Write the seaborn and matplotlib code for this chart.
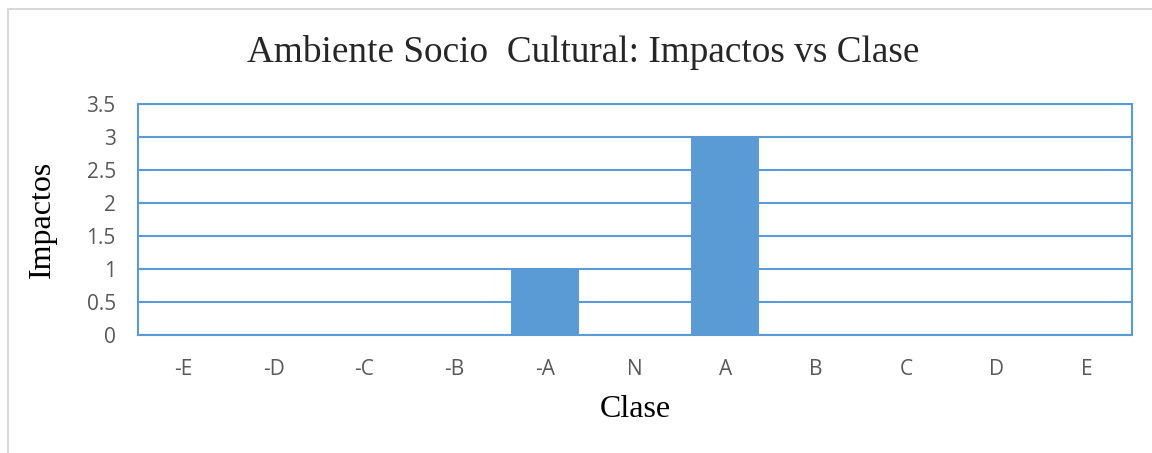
import numpy as np
import pandas as pd
import matplotlib
matplotlib.use('Agg')
import matplotlib.pyplot as plt
import seaborn as sns
from matplotlib.patches import Rectangle

# Data
clases = ['-E', '-D', '-C', '-B', '-A', 'N', 'A', 'B', 'C', 'D', 'E']
impactos = [0, 0, 0, 0, 1, 0, 3, 0, 0, 0, 0]
y_ticks = [0, 0.5, 1, 1.5, 2, 2.5, 3, 3.5]
y_tick_labels = ['0', '0.5', '1', '1.5', '2', '2.5', '3', '3.5']

df = pd.DataFrame({'Clase': clases, 'Impactos': impactos})

sns.set_theme(style='white')
blue = '#5B9BD5'

fig = plt.figure(figsize=(11.52, 4.53), dpi=100)
ax = fig.add_axes([138 / 1152, 1 - 335 / 453, (1132 - 138) / 1152, (335 - 104) / 453])

sns.barplot(data=df, x='Clase', y='Impactos', order=clases, color=blue,
            saturation=1, width=0.75, linewidth=0, ax=ax, zorder=3)

ax.set_ylim(0, 3.5)
ax.set_yticks(y_ticks)
ax.set_yticklabels(y_tick_labels)
ax.set_xlim(-0.5, len(clases) - 0.5)
ax.yaxis.grid(True, color=blue, linewidth=1.5, zorder=0)
ax.set_axisbelow(True)
for s in ax.spines.values():
    s.set_visible(True)
    s.set_color(blue)
    s.set_linewidth(1.5)

ax.tick_params(axis='both', length=0, labelsize=15, labelcolor='#595959')
ax.tick_params(axis='y', pad=16)
ax.tick_params(axis='x', pad=17)
for lab in ax.get_xticklabels() + ax.get_yticklabels():
    lab.set_family('Open Sans')

ax.set_xlabel('Clase', family='Liberation Serif', fontsize=23, color='black', labelpad=11)
ax.set_ylabel('Impactos', family='Liberation Serif', fontsize=23, color='black', labelpad=21)

fig.text(583 / 1152, 1 - 53 / 453, 'Ambiente Socio  Cultural: Impactos vs Clase',
         family='Liberation Serif', fontsize=26.8, ha='center', va='center')

# light outer border
fig.patches.append(Rectangle((8 / 1152, -0.1), 1.2, 1 - 9 / 453 + 0.1, transform=fig.transFigure,
                             fill=False, edgecolor='#D9D9D9', linewidth=1.5))

fig.savefig('out.png', dpi=100)
